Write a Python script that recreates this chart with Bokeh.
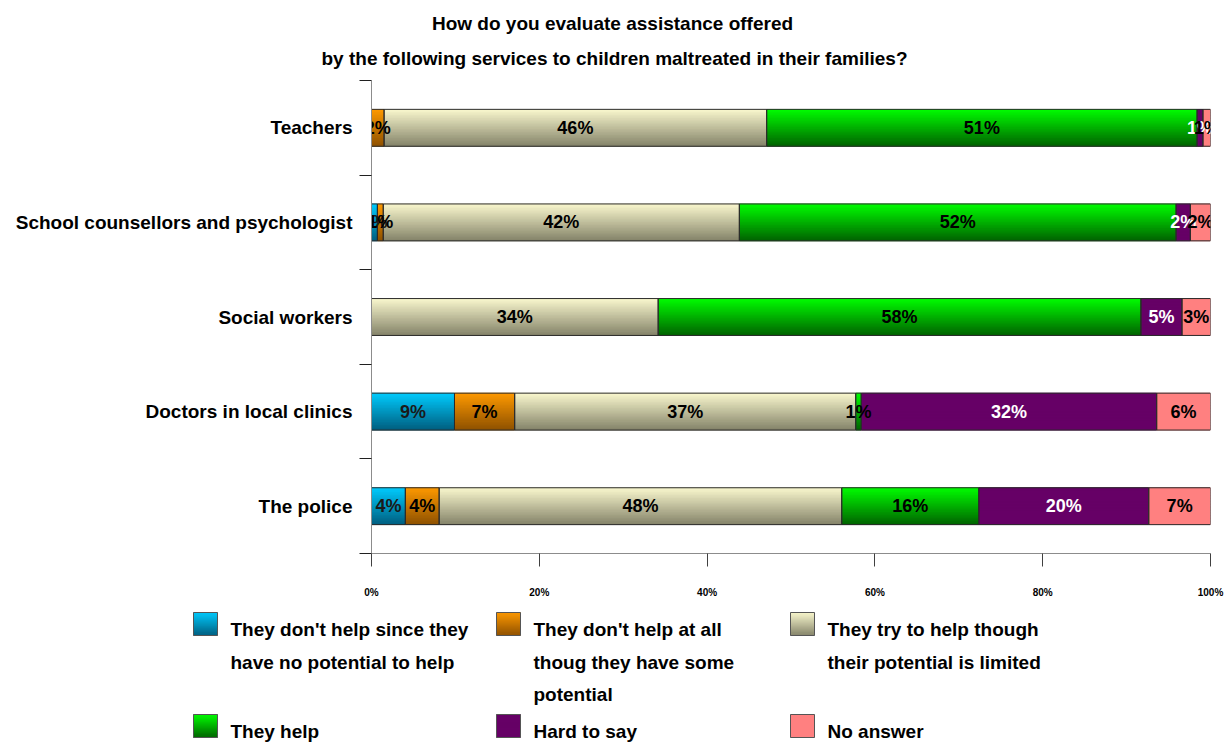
from bokeh.plotting import figure
from bokeh.models import ColumnDataSource, Range1d, FixedTicker
from bokeh.layouts import column
from bokeh.embed import file_html
from bokeh.resources import INLINE
from bokeh.core.properties import value

# ---- data -------------------------------------------------------------
categories = [
    "Teachers",
    "School counsellors and psychologist",
    "Social workers",
    "Doctors in local clinics",
    "The police",
]
no_potential = [0.0, 0.7, 0.0, 9.1, 4.0]
some_potential = [1.5, 0.7, 0.0, 6.6, 4.0]
limited = [45.6, 42.4, 34.2, 37.4, 47.6]
they_help = [51.3, 52.0, 57.6, 0.6, 16.2]
hard_to_say = [0.7, 1.7, 4.9, 32.4, 20.1]
no_answer = [0.9, 2.4, 3.4, 5.9, 7.3]

legend_labels = [
    "They don't help since they\nhave no potential to help",
    "They don't help at all\nthoug they have some\npotential",
    "They try to help though\ntheir potential is limited",
    "They help",
    "Hard to say",
    "No answer",
]
x_ticks = [0, 20, 40, 60, 80, 100]
x_tick_labels = ["0%", "20%", "40%", "60%", "80%", "100%"]
title_lines = [
    "How do you evaluate assistance offered",
    "by the following services to children maltreated in their families?",
]

series = [no_potential, some_potential, limited, they_help, hard_to_say, no_answer]

# ---- styling ----------------------------------------------------------
FONT = "Liberation Sans"
# (top colour, bottom colour, label colour) for each series
styles = [
    ("#00ccff", "#005f80", "#1a1a1a"),
    ("#ff9900", "#8f5200", "#000000"),
    ("#fbf9cf", "#85846a", "#000000"),
    ("#00ff00", "#006400", "#000000"),
    ("#660066", "#660066", "#ffffff"),
    ("#ff8080", "#ff8080", "#000000"),
]
N_STRIPS = 24
BAR_H = 0.39


def blend(c1, c2, t):
    a = [int(c1[i:i + 2], 16) for i in (1, 3, 5)]
    b = [int(c2[i:i + 2], 16) for i in (1, 3, 5)]
    return "#%02x%02x%02x" % tuple(round(a[j] + (b[j] - a[j]) * t) for j in range(3))


# ---- stacked, normalised bars ----------------------------------------
strips = dict(y=[], left=[], right=[], color=[])
bases = dict(y=[], left=[], right=[], color=[])
labels = dict(x=[], y=[], text=[], color=[])

n_cat = len(categories)
for i, cat in enumerate(categories):
    pos = n_cat - 1 - i
    total = sum(s[i] for s in series)
    cum = 0.0
    for s_idx, vals in enumerate(series):
        v = vals[i]
        share = v / total * 100.0
        left, right = cum, cum + share
        cum = right
        if v == 0:
            continue
        top, bottom, txt_col = styles[s_idx]
        for k in range(N_STRIPS):
            t = (k + 0.5) / N_STRIPS
            strips["y"].append(pos + BAR_H / 2 - (k + 0.5) * BAR_H / N_STRIPS)
            strips["left"].append(left)
            strips["right"].append(right)
            strips["color"].append(blend(top, bottom, t))
        bases["y"].append(pos)
        bases["left"].append(left)
        bases["right"].append(right)
        bases["color"].append(blend(top, bottom, 0.5))
        labels["x"].append((left + right) / 2)
        labels["y"].append(pos)
        labels["text"].append("%d%%" % int(v + 0.5))
        labels["color"].append(txt_col)

p = figure(
    width=1225, height=520,
    x_range=Range1d(0, 100), y_range=Range1d(-0.5, n_cat - 0.5),
    output_backend="svg", toolbar_location=None,
    min_border_left=371, min_border_right=15,
    min_border_top=0, min_border_bottom=47,
)
p.frame_align = False
p.outline_line_color = None
p.xgrid.visible = False
p.ygrid.visible = False

base_src = ColumnDataSource(bases)
p.hbar(y="y", left="left", right="right", height=BAR_H,
       fill_color="color", line_color=None, source=base_src)
p.hbar(y="y", left="left", right="right", height=BAR_H / N_STRIPS * 1.6,
       fill_color="color", line_color=None, source=ColumnDataSource(strips))
p.hbar(y="y", left="left", right="right", height=BAR_H,
       fill_color=None, line_color="#2b2b2b", line_width=1, source=base_src)
p.text(x="x", y="y", text="text", text_color="color",
       text_font=value(FONT), text_font_style="bold", text_font_size="18px",
       text_align="center", text_baseline="middle",
       source=ColumnDataSource(labels))

# x axis
xa = p.xaxis[0]
xa.ticker = FixedTicker(ticks=x_ticks)
xa.major_label_overrides = dict(zip(x_ticks, x_tick_labels))
xa.axis_line_color = "#8c8c8c"
xa.major_tick_line_color = "#404040"
xa.major_tick_out = 13
xa.major_tick_in = 0
xa.minor_tick_line_color = None
xa.major_label_standoff = 20
xa.major_label_text_font = FONT
xa.major_label_text_font_style = "bold"
xa.major_label_text_font_size = "10px"
xa.major_label_text_color = "#000000"

# y axis: labels at band centres, ticks at band boundaries
ya = p.yaxis[0]
centres = [n_cat - 1 - i for i in range(n_cat)]
ya.ticker = FixedTicker(ticks=centres,
                        minor_ticks=[c - 0.5 for c in range(n_cat + 1)])
ya.major_label_overrides = dict(zip(centres, categories))
ya.axis_line_color = "#8c8c8c"
ya.major_tick_out = 0
ya.major_tick_in = 0
ya.minor_tick_line_color = "#202020"
ya.minor_tick_out = 12
ya.minor_tick_in = 0
ya.major_label_standoff = 7
ya.major_label_text_font = FONT
ya.major_label_text_font_style = "bold"
ya.major_label_text_font_size = "19px"
ya.major_label_text_color = "#000000"

# ---- title ------------------------------------------------------------
t = figure(width=1225, height=80, x_range=Range1d(0, 1225), y_range=Range1d(80, 0),
           x_axis_type=None, y_axis_type=None, output_backend="svg",
           toolbar_location=None, min_border=0, outline_line_color=None)
t.frame_align = False
t.xgrid.visible = False
t.ygrid.visible = False
t.text(x=[612, 614], y=[23, 58], text=title_lines,
       text_font=value(FONT), text_font_style="bold", text_font_size="19px",
       text_align="center", text_baseline="middle", text_color="#000000")

# ---- legend -----------------------------------------------------------
lg = figure(width=1225, height=144, x_range=Range1d(0, 1225), y_range=Range1d(144, 0),
            x_axis_type=None, y_axis_type=None, output_backend="svg",
            toolbar_location=None, min_border=0, outline_line_color=None)
lg.frame_align = False
lg.xgrid.visible = False
lg.ygrid.visible = False

col_x = [193, 496, 790]
row_y = [12, 114]
SW_W, SW_H = 24, 23
LINE_GAP = 32.5
TEXT_DX = 37

sw = dict(x=[], y=[], h=[], color=[])
sw_box = dict(x=[], y=[], color=[])
lt = dict(x=[], y=[], text=[])
for idx, lab in enumerate(legend_labels):
    cx = col_x[idx % 3] + SW_W / 2
    ty = row_y[idx // 3]
    top, bottom, _ = styles[idx]
    for k in range(N_STRIPS):
        tt = (k + 0.5) / N_STRIPS
        sw["x"].append(cx)
        sw["y"].append(ty + (k + 0.5) * SW_H / N_STRIPS)
        sw["h"].append(SW_H / N_STRIPS * 1.6)
        sw["color"].append(blend(top, bottom, tt))
    sw_box["x"].append(cx)
    sw_box["y"].append(ty + SW_H / 2)
    sw_box["color"].append(blend(top, bottom, 0.5))
    for j, line in enumerate(lab.split("\n")):
        lt["x"].append(col_x[idx % 3] + TEXT_DX)
        lt["y"].append(ty + 17 + j * LINE_GAP)
        lt["text"].append(line)

box_src = ColumnDataSource(sw_box)
lg.rect(x="x", y="y", width=SW_W, height=SW_H, fill_color="color", line_color=None,
        source=box_src)
lg.rect(x="x", y="y", width=SW_W, height="h", fill_color="color", line_color=None,
        source=ColumnDataSource(sw))
lg.rect(x="x", y="y", width=SW_W, height=SW_H, fill_color=None, line_color="#555555",
        line_width=1, source=box_src)
lg.text(x="x", y="y", text="text", text_font=value(FONT), text_font_style="bold",
        text_font_size="19px", text_align="left", text_baseline="middle",
        text_color="#000000", source=ColumnDataSource(lt))

layout = column(t, p, lg, spacing=0)
open("out.html", "w").write(file_html(layout, INLINE))
